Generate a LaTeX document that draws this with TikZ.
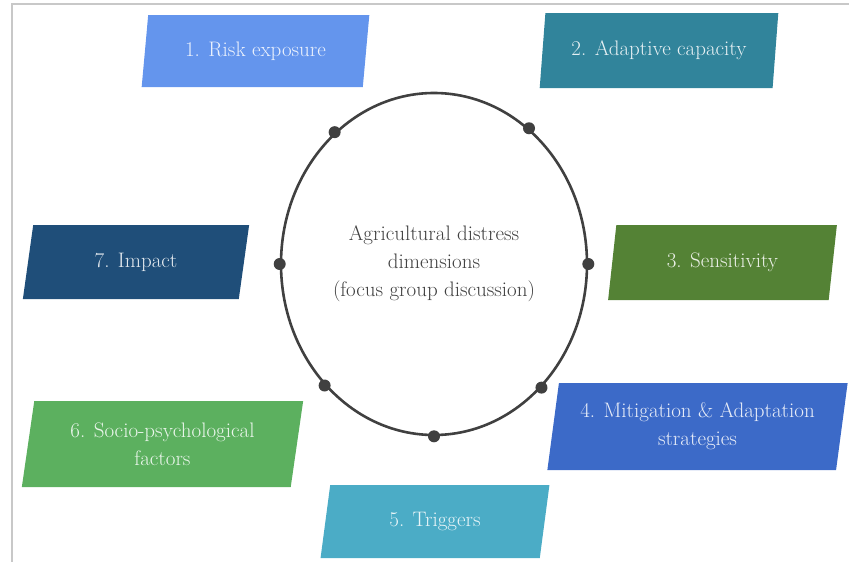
\documentclass[tikz,border=0pt]{standalone}
\usepackage{tikz}
\usetikzlibrary{shapes.geometric}
\definecolor{riskblue}{RGB}{100,149,237}
\definecolor{adaptteal}{RGB}{49,132,155}
\definecolor{sensgreen}{RGB}{84,130,53}
\definecolor{mitiblue}{RGB}{60,106,200}
\definecolor{trigaqua}{RGB}{75,172,198}
\definecolor{sociogreen}{RGB}{92,176,95}
\definecolor{impnavy}{RGB}{31,78,121}
\definecolor{rimgray}{RGB}{64,64,64}
\definecolor{framegray}{RGB}{200,200,200}
\tikzset{
  dimbox/.style={trapezium,trapezium left angle=79,trapezium right angle=101,
    trapezium stretches=true,fill=#1,text=white!88!#1,align=center,inner sep=2pt},
}
\begin{document}
\begin{tikzpicture}[x=1pt,y=-1pt,font=\fontsize{21}{28}\selectfont]
\useasboundingbox (0,0) rectangle (849,562);
\draw[framegray,line width=1.5pt] (12,562) -- (12,4) -- (849,4);
\node[draw=rimgray,line width=2.6pt,ellipse,minimum width=306,minimum height=342,
  text=rimgray,align=center] (hub) at (434,264) {Agricultural distress\\dimensions\\(focus group discussion)};
\foreach \a in {0,55,127,180,228.5,270,311}
  \fill[rimgray] (hub.\a) circle (6);
\node[dimbox=riskblue,minimum width=228,minimum height=72] (rx) at (255.5,51) {1. Risk exposure};
\node[dimbox=adaptteal,minimum width=239,minimum height=75] (ac) at (659,50.5) {2. Adaptive capacity};
\node[dimbox=sensgreen,minimum width=229,minimum height=75] (se) at (722.5,262.5) {3. Sensitivity};
\node[dimbox=mitiblue,minimum width=301,minimum height=87] (ms) at (697.5,426.5) {4. Mitigation \& Adaptation\\strategies};
\node[dimbox=trigaqua,minimum width=229,minimum height=73] (tr) at (435,521.5) {5. Triggers};
\node[dimbox=sociogreen,minimum width=282,minimum height=86] (sp) at (162.5,444) {6. Socio-psychological\\factors};
\node[dimbox=impnavy,minimum width=228,minimum height=74] (im) at (136,262) {7. Impact};
\end{tikzpicture}
\end{document}
